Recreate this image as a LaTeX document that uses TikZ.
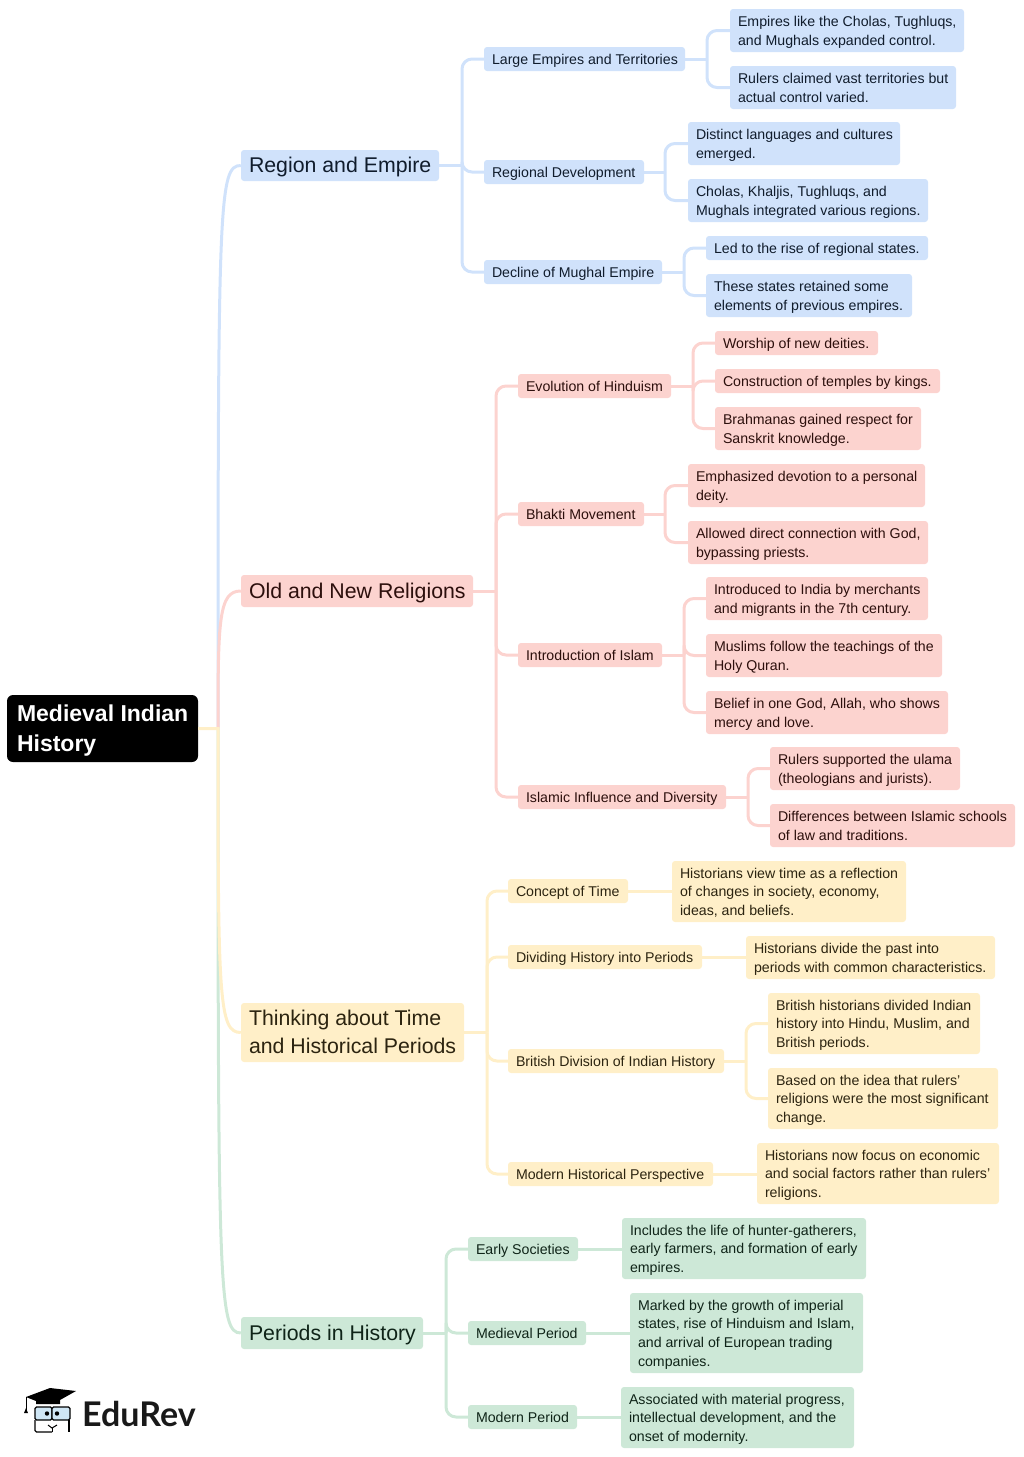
\documentclass[tikz,border=0pt]{standalone}
\usepackage{fontspec}
\setmainfont{Liberation Sans}
\newfontfamily\logofont{Lato}
\definecolor{bluefill}{HTML}{D0E2FB}
\definecolor{redfill}{HTML}{FCD3CF}
\definecolor{yellowfill}{HTML}{FFEFC8}
\definecolor{greenfill}{HTML}{CDE8D7}
\definecolor{bluetext}{HTML}{101C2C}
\definecolor{redtext}{HTML}{2C0F0C}
\definecolor{yellowtext}{HTML}{2C2410}
\definecolor{greentext}{HTML}{0F2418}
\definecolor{glass}{HTML}{CFE6F5}
\tikzset{
  x=1pt,y=-1pt,
  base/.style={rectangle,rounded corners=3pt,inner xsep=8pt,inner ysep=0pt},
  leaf/.style={base,font=\fontsize{14.17}{18.6}\selectfont},
  main/.style={base,font=\fontsize{21.3}{28}\selectfont},
  rootbox/.style={base,rounded corners=6pt,fill=black,text=white,font=\bfseries\fontsize{23}{30}\selectfont},
  bl/.style={fill=bluefill,text=bluetext},
  rd/.style={fill=redfill,text=redtext},
  yl/.style={fill=yellowfill,text=yellowtext},
  gn/.style={fill=greenfill,text=greentext},
  wire/.style={line width=3pt},
}
% name, style, x1, y1, x2, y2, text
\newcommand{\bx}[7]{%
  \pgfmathsetmacro\bxW{#5-#3-16}\pgfmathsetmacro\bxH{#6-#4}%
  \node[#2,minimum height=\bxH pt] (#1) at ({(#3+#5)/2},{(#4+#6)/2}) {\makebox[\bxW pt][l]{\raisebox{-1.5pt}[\height][\depth]{\begin{tabular}{@{}l@{}}#7\end{tabular}}}};}
% colour, parent, trunk coordinate, child
\newcommand{\conn}[4]{%
  \draw[wire,#1] (#2.east) -- (#3 |- #2.east);
  \draw[wire,#1,rounded corners=10pt] (#3 |- #2.east) -- (#3 |- #4.west) -- (#4.west);}
\newcommand{\direct}[3]{\draw[wire,#1] (#2.east) -- (#2.east -| #3.west);}
\begin{document}
\begin{tikzpicture}
\useasboundingbox (0,0) rectangle (1024,1457);
% trunks
\coordinate (t0) at (218,0);
\coordinate (ta) at (462,0);
\coordinate (ta1) at (707,0);
\coordinate (ta2) at (665,0);
\coordinate (ta3) at (684,0);
\coordinate (tb) at (496,0);
\coordinate (tb1) at (693,0);
\coordinate (tb2) at (665,0);
\coordinate (tb3) at (684,0);
\coordinate (tb4) at (748,0);
\coordinate (tc) at (487,0);
\coordinate (tc3) at (746,0);
\coordinate (td) at (446,0);
% nodes
\bx{root}{rootbox}{7}{695}{198}{762}{\hspace*{2pt}Medieval Indian\\\hspace*{2pt}History}
\bx{region}{main,bl}{241}{150}{439}{181}{Region and Empire}
\bx{relig}{main,rd}{241}{575}{473}{607}{Old and New Religions}
\bx{think}{main,yl}{241}{1003}{464}{1062}{Thinking about Time\\and Historical Periods}
\bx{period}{main,gn}{241}{1317}{423}{1349}{Periods in History}
% region
\bx{large}{leaf,bl}{484}{47}{685}{71}{Large Empires and Territories}
\bx{regdev}{leaf,bl}{484}{160}{644}{184}{Regional Development}
\bx{decline}{leaf,bl}{484}{260}{662}{284}{Decline of Mughal Empire}
\bx{a1}{leaf,bl}{730}{9}{964}{52}{Empires like the Cholas, Tughluqs,\\and Mughals expanded control.}
\bx{a2}{leaf,bl}{730}{66}{956}{109}{Rulers claimed vast territories but\\actual control varied.}
\bx{a3}{leaf,bl}{688}{122}{900}{165}{Distinct languages and cultures\\emerged.}
\bx{a4}{leaf,bl}{688}{179}{928}{222}{Cholas, Khaljis, Tughluqs, and\\Mughals integrated various regions.}
\bx{a5}{leaf,bl}{706}{236}{928}{260}{Led to the rise of regional states.}
\bx{a6}{leaf,bl}{706}{274}{912}{317}{These states retained some\\elements of previous empires.}
% religions
\bx{evol}{leaf,rd}{518}{374}{671}{398}{Evolution of Hinduism}
\bx{bhakti}{leaf,rd}{518}{502}{644}{526}{Bhakti Movement}
\bx{islam}{leaf,rd}{518}{643}{662}{667}{Introduction of Islam}
\bx{infl}{leaf,rd}{518}{785}{726}{809}{Islamic Influence and Diversity}
\bx{b1}{leaf,rd}{715}{331}{878}{355}{Worship of new deities.}
\bx{b2}{leaf,rd}{715}{369}{940}{393}{Construction of temples by kings.}
\bx{b3}{leaf,rd}{715}{407}{921}{450}{Brahmanas gained respect for\\Sanskrit knowledge.}
\bx{b4}{leaf,rd}{688}{464}{925}{507}{Emphasized devotion to a personal\\deity.}
\bx{b5}{leaf,rd}{688}{521}{928}{564}{Allowed direct connection with God,\\bypassing priests.}
\bx{b6}{leaf,rd}{706}{577}{928}{620}{Introduced to India by merchants\\and migrants in the 7th century.}
\bx{b7}{leaf,rd}{706}{634}{942}{677}{Muslims follow the teachings of the\\Holy Quran.}
\bx{b8}{leaf,rd}{706}{691}{948}{734}{Belief in one God, Allah, who shows\\mercy and love.}
\bx{b9}{leaf,rd}{770}{747}{960}{790}{Rulers supported the ulama\\(theologians and jurists).}
\bx{b10}{leaf,rd}{770}{804}{1015}{847}{Differences between Islamic schools\\of law and traditions.}
% time
\bx{concept}{leaf,yl}{508}{879}{628}{903}{Concept of Time}
\bx{divid}{leaf,yl}{508}{945}{702}{969}{Dividing History into Periods}
\bx{brit}{leaf,yl}{508}{1049}{724}{1073}{British Division of Indian History}
\bx{modhist}{leaf,yl}{508}{1162}{713}{1186}{Modern Historical Perspective}
\bx{c1}{leaf,yl}{672}{861}{906}{922}{Historians view time as a reflection\\of changes in society, economy,\\ideas, and beliefs.}
\bx{c2}{leaf,yl}{746}{936}{995}{979}{Historians divide the past into\\periods with common characteristics.}
\bx{c3}{leaf,yl}{768}{993}{980}{1054}{British historians divided Indian\\history into Hindu, Muslim, and\\British periods.}
\bx{c4}{leaf,yl}{768}{1068}{998}{1129}{Based on the idea that rulers'\\religions were the most significant\\change.}
\bx{c5}{leaf,yl}{757}{1143}{999}{1204}{Historians now focus on economic\\and social factors rather than rulers'\\religions.}
% periods
\bx{early}{leaf,gn}{468}{1237}{578}{1261}{Early Societies}
\bx{medi}{leaf,gn}{468}{1321}{586}{1345}{Medieval Period}
\bx{modp}{leaf,gn}{468}{1405}{577}{1429}{Modern Period}
\bx{d1}{leaf,gn}{622}{1218}{866}{1279}{Includes the life of hunter-gatherers,\\early farmers, and formation of early\\empires.}
\bx{d2}{leaf,gn}{630}{1293}{863}{1373}{Marked by the growth of imperial\\states, rise of Hinduism and Islam,\\and arrival of European trading\\companies.}
\bx{d3}{leaf,gn}{621}{1387}{854}{1448}{Associated with material progress,\\intellectual development, and the\\onset of modernity.}
% root connectors
\draw[wire,bluefill] (t0 |- root.east) .. controls +(0,-529) and +(-22,0) .. (region.west);
\draw[wire,greenfill] (t0 |- root.east) .. controls +(0,561) and +(-22,0) .. (period.west);
\draw[wire,redfill] (t0 |- root.east) .. controls +(0,-109) and +(-22,0) .. (relig.west);
\draw[wire,yellowfill] (root.east) -- (t0 |- root.east) .. controls +(0,271) and +(-22,0) .. (think.west);
% region connectors
\conn{bluefill}{region}{ta}{large}
\conn{bluefill}{region}{ta}{regdev}
\conn{bluefill}{region}{ta}{decline}
\conn{bluefill}{large}{ta1}{a1}
\conn{bluefill}{large}{ta1}{a2}
\conn{bluefill}{regdev}{ta2}{a3}
\conn{bluefill}{regdev}{ta2}{a4}
\conn{bluefill}{decline}{ta3}{a5}
\conn{bluefill}{decline}{ta3}{a6}
% religion connectors
\conn{redfill}{relig}{tb}{evol}
\conn{redfill}{relig}{tb}{bhakti}
\conn{redfill}{relig}{tb}{islam}
\conn{redfill}{relig}{tb}{infl}
\conn{redfill}{evol}{tb1}{b1}
\conn{redfill}{evol}{tb1}{b2}
\conn{redfill}{evol}{tb1}{b3}
\conn{redfill}{bhakti}{tb2}{b4}
\conn{redfill}{bhakti}{tb2}{b5}
\conn{redfill}{islam}{tb3}{b6}
\conn{redfill}{islam}{tb3}{b7}
\conn{redfill}{islam}{tb3}{b8}
\conn{redfill}{infl}{tb4}{b9}
\conn{redfill}{infl}{tb4}{b10}
% time connectors
\conn{yellowfill}{think}{tc}{concept}
\conn{yellowfill}{think}{tc}{divid}
\conn{yellowfill}{think}{tc}{brit}
\conn{yellowfill}{think}{tc}{modhist}
\direct{yellowfill}{concept}{c1}
\direct{yellowfill}{divid}{c2}
\conn{yellowfill}{brit}{tc3}{c3}
\conn{yellowfill}{brit}{tc3}{c4}
\direct{yellowfill}{modhist}{c5}
% period connectors
\conn{greenfill}{period}{td}{early}
\conn{greenfill}{period}{td}{medi}
\conn{greenfill}{period}{td}{modp}
\direct{greenfill}{early}{d1}
\direct{greenfill}{medi}{d2}
\direct{greenfill}{modp}{d3}
% logo
\fill[black] (26,1397) -- (50,1388) -- (76,1391) -- (60,1400) -- (60,1404) -- (36,1404) -- (36,1401) -- cycle;
\draw[black,line width=1pt] (26,1397) -- (26,1410);
\fill[black] (26,1408) -- (28,1413) -- (24,1413) -- cycle;
\draw[black,line width=1.3pt,fill=glass,rounded corners=1.5pt] (35,1407) rectangle (52,1420);
\draw[black,line width=1.3pt,fill=glass,rounded corners=1.5pt] (52,1407) rectangle (70,1420);
\draw[black,line width=1.2pt,rounded corners=1.5pt] (35,1420) -- (35,1432) -- (52,1432);
\draw[black,line width=1.2pt] (69,1420) -- (69,1432);
\draw[black,line width=1pt] (48,1425) -- (52,1428) -- (57,1425);
\draw[black,line width=1pt] (52,1428) -- (52,1432);
\fill[black] (47,1413.5) circle (2.2pt);
\fill[black] (57,1413.5) circle (2.2pt);
\node[anchor=west,inner sep=0pt,font=\logofont\bfseries\fontsize{34}{36}\selectfont,text=black!90] (logo) at (82,1414) {EduRev};
\end{tikzpicture}
\end{document}
